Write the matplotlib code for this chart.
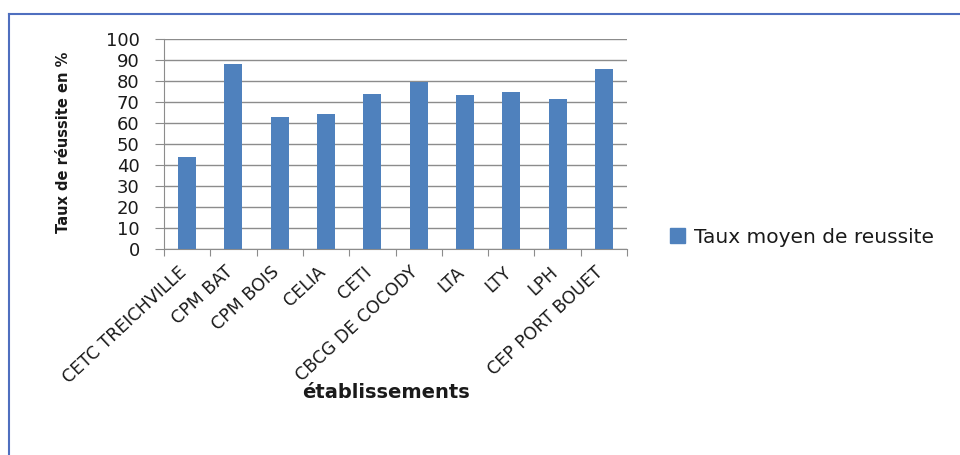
import matplotlib
matplotlib.use("Agg")
import matplotlib.pyplot as plt
from matplotlib.patches import Rectangle
from matplotlib.lines import Line2D
from matplotlib.transforms import ScaledTranslation

categories = ["CETC TREICHVILLE", "CPM BAT", "CPM BOIS", "CELIA", "CETI",
              "CBCG DE COCODY", "LTA", "LTY", "LPH", "CEP PORT BOUET"]
values = [43.6, 88.2, 62.7, 64.4, 73.9, 79.7, 73.4, 74.9, 71.2, 85.6]
yticks = list(range(0, 101, 10))
series_name = "Taux moyen de reussite"

plt.rcParams['font.family'] = ['DejaVu Sans']
W, H = 960, 455
fig = plt.figure(figsize=(W/100, H/100), dpi=100)
ax = fig.add_axes([164/W, 1-249/H, (627-164)/W, (249-39)/H])

bar_color = "#4F81BD"
grid_color = "#8c8c8c"
text_color = "#1a1a1a"
x = list(range(len(categories)))
ax.bar(x, values, width=0.39, color=bar_color, zorder=3)
ax.set_xlim(-0.5, len(categories)-0.5)
ax.set_ylim(0, 100)
ax.set_yticks(yticks)
ax.set_yticklabels([str(t) for t in yticks], fontsize=13, color=text_color)
ax.yaxis.grid(True, color=grid_color, linewidth=1, zorder=0)
ax.tick_params(axis='y', length=6.5, color=grid_color, pad=11)
ax.set_xticks([i - 0.5 for i in range(len(categories)+1)])
ax.set_xticklabels([])
ax.tick_params(axis='x', which='major', length=5, color=grid_color)
ax.set_xticks(x, minor=True)
ax.set_xticklabels(categories, minor=True, rotation=43, ha='right', va='top',
                   rotation_mode='anchor', fontsize=12.5, color=text_color)
ax.tick_params(axis='x', which='minor', length=0, pad=10)
offset = ScaledTranslation(-9/100, 0, fig.dpi_scale_trans)
for lbl in ax.get_xticklabels(minor=True):
    lbl.set_transform(lbl.get_transform() + offset)
for s in ['top', 'right']:
    ax.spines[s].set_visible(False)
ax.spines['left'].set_color(grid_color)
ax.spines['bottom'].set_color(grid_color)

fig.text(63/W, 1-142/H, "Taux de réussite en %", fontsize=10.5, fontweight='bold',
         rotation=90, ha='center', va='center', color=text_color)
fig.text(386/W, 1-393/H, "établissements", fontsize=14, fontweight='bold',
         ha='center', va='center', color=text_color)

handle = Rectangle((0, 0), 1, 1, color=bar_color)
fig.legend([handle], [series_name], loc='center left',
           bbox_to_anchor=(652/W, 1-237/H), frameon=False, fontsize=14.5,
           handlelength=0.75, handleheight=0.75, handletextpad=0.45,
           labelcolor=text_color)

# outer chart border
fig.add_artist(Line2D([9/W, 9/W], [0, 1-14/H], transform=fig.transFigure,
                      color="#4F6FBF", linewidth=1.5))
fig.add_artist(Line2D([9/W, 1], [1-14/H, 1-14/H], transform=fig.transFigure,
                      color="#4F6FBF", linewidth=1.5))

fig.savefig("out.png", dpi=100)
